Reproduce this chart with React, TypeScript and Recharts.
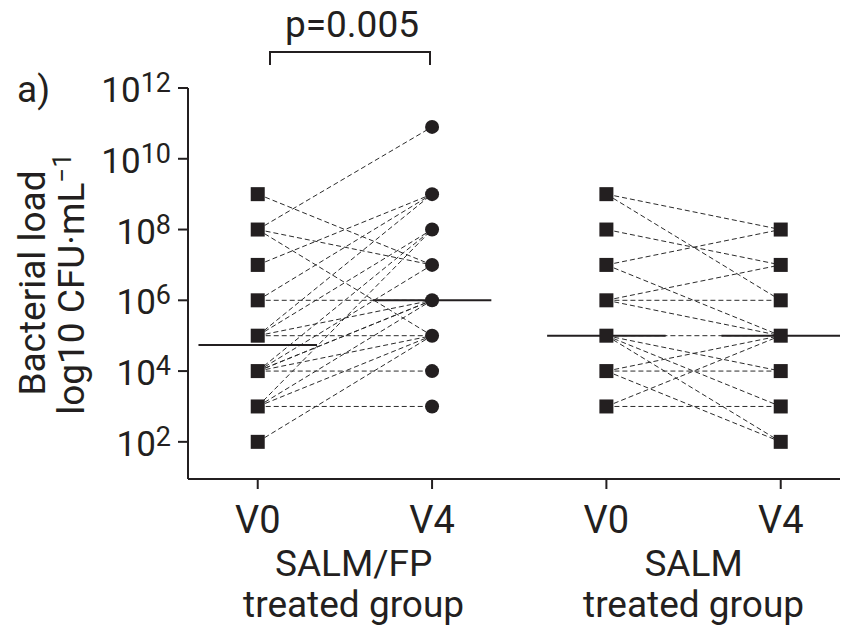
import React from 'react';
import { ComposedChart, Line, Scatter, XAxis, YAxis } from 'recharts';

// ---- data (log10 CFU/mL exponents) ----
const visitLabels = ['V0', 'V4', 'V0', 'V4'];
const visitPositions = [0, 1, 2, 3];
const groupNames = ['SALM/FP', 'SALM'];
const groupSubtitle = 'treated group';
const groupCenters = [0.55, 2.5];
const yTickExponents = [2, 4, 6, 8, 10, 12];

// SALM/FP group, paired by patient index
const salmFpV0 = [9, 8, 8, 8, 7, 6, 6, 5, 5, 5, 5, 4, 4, 4, 4, 4, 4, 3, 3, 3, 3, 2];
const salmFpV4 = [7, 10.9, 7, 5, 9, 9, 6, 9, 8, 6, 5, 8, 7, 6, 6, 5, 4, 8, 6, 5, 3, 5];

// SALM group, paired by patient index
const salmV0 = [9, 9, 8, 7, 7, 6, 6, 6, 5, 5, 5, 5, 4, 4, 4, 3, 3];
const salmV4 = [8, 6, 7, 8, 5, 7, 6, 5, 5, 4, 3, 2, 5, 4, 2, 5, 3];

// medians (V0, V4) per group
const salmFpMedians = [4.74, 6];
const salmMedians = [5, 5];

const pValueText = 'p=0.005';

// ---- styling ----
const INK = '#231f20';
const FONT = 'Roboto, "DejaVu Sans", sans-serif';
const MEDIAN_HALF = 0.34;

const uniq = (arr: number[]) => Array.from(new Set(arr));

const pairSegments = [
  ...salmFpV0.map((a, i) => [
    { x: visitPositions[0], y: a },
    { x: visitPositions[1], y: salmFpV4[i] },
  ]),
  ...salmV0.map((a, i) => [
    { x: visitPositions[2], y: a },
    { x: visitPositions[3], y: salmV4[i] },
  ]),
];

const squarePoints = [
  ...uniq(salmFpV0).map((y) => ({ x: visitPositions[0], y })),
  ...uniq(salmV0).map((y) => ({ x: visitPositions[2], y })),
  ...uniq(salmV4).map((y) => ({ x: visitPositions[3], y })),
];
const circlePoints = uniq(salmFpV4).map((y) => ({ x: visitPositions[1], y }));

const allMedians = [...salmFpMedians, ...salmMedians];
const medianSegments = allMedians.map((m, i) => [
  { x: visitPositions[i] - MEDIAN_HALF, y: m },
  { x: visitPositions[i] + MEDIAN_HALF, y: m },
]);

const SquareShape = (props: any) => {
  const { cx, cy } = props;
  return <rect x={cx - 7} y={cy - 7} width={14} height={14} fill={INK} />;
};
const CircleShape = (props: any) => {
  const { cx, cy } = props;
  return <circle cx={cx} cy={cy} r={7} fill={INK} />;
};

const YTick = (props: any) => {
  const { x, y, payload } = props;
  return (
    <text x={x - 5} y={y + 14} textAnchor="end" fill={INK} fontFamily={FONT} fontSize={35}>
      10
      <tspan fontSize={27} dy={-10}>
        {payload.value}
      </tspan>
    </text>
  );
};

const VisitTick = (props: any) => {
  const { x, payload } = props;
  const idx = visitPositions.indexOf(payload.value);
  return (
    <text x={x} y={533} textAnchor="middle" fill={INK} fontFamily={FONT} fontSize={38}>
      {visitLabels[idx]}
    </text>
  );
};

const GroupTick = (props: any) => {
  const { x, payload } = props;
  const name = groupNames[groupCenters.indexOf(payload.value)];
  return (
    <g>
      <text x={x} y={576} textAnchor="middle" fill={INK} fontFamily={FONT} fontSize={37}>
        {name}
      </text>
      <text x={x} y={617} textAnchor="middle" fill={INK} fontFamily={FONT} fontSize={37}>
        {groupSubtitle}
      </text>
    </g>
  );
};

export default function App() {
  return (
    <div style={{ position: 'absolute', left: 0, top: 0, width: 841, height: 628, background: '#fff' }}>
      <ComposedChart width={841} height={628} margin={{ top: 88, right: 1, bottom: 9, left: 88 }}>
        <XAxis
          xAxisId={0}
          type="number"
          dataKey="x"
          domain={[-0.4, 3.34]}
          ticks={visitPositions}
          tick={<VisitTick />}
          tickSize={10}
          height={60}
          stroke={INK}
          strokeWidth={2}
          allowDataOverflow
        />
        <XAxis
          xAxisId={1}
          type="number"
          dataKey="x"
          domain={[-0.4, 3.34]}
          ticks={groupCenters}
          tick={<GroupTick />}
          axisLine={false}
          tickLine={false}
          height={80}
          allowDataOverflow
        />
        <YAxis
          type="number"
          dataKey="y"
          domain={[0.95, 12]}
          ticks={yTickExponents}
          tick={<YTick />}
          tickSize={10}
          width={100}
          stroke={INK}
          strokeWidth={2}
          allowDataOverflow
        />
        {pairSegments.map((seg, i) => (
          <Line
            key={'p' + i}
            xAxisId={0}
            data={seg}
            dataKey="y"
            type="linear"
            stroke="#2b2b2b"
            strokeWidth={1}
            strokeDasharray="5 3"
            dot={false}
            activeDot={false}
            isAnimationActive={false}
          />
        ))}
        {medianSegments.map((seg, i) => (
          <Line
            key={'m' + i}
            xAxisId={0}
            data={seg}
            dataKey="y"
            type="linear"
            stroke={INK}
            strokeWidth={2}
            dot={false}
            activeDot={false}
            isAnimationActive={false}
          />
        ))}
        <Scatter xAxisId={0} data={squarePoints} dataKey="y" shape={<SquareShape />} isAnimationActive={false} />
        <Scatter xAxisId={0} data={circlePoints} dataKey="y" shape={<CircleShape />} isAnimationActive={false} />
      </ComposedChart>
      <svg
        width={841}
        height={628}
        style={{ position: 'absolute', left: 0, top: 0, pointerEvents: 'none' }}
      >
        <text x={17} y={102} fill={INK} fontFamily={FONT} fontSize={37}>
          a)
        </text>
        <text x={352} y={37} textAnchor="middle" fill={INK} fontFamily={FONT} fontSize={37}>
          {pValueText}
        </text>
        <path d="M270,65 L270,52 L430,52 L430,65" fill="none" stroke={INK} strokeWidth={2} />
        <text
          transform="translate(45,283) rotate(-90)"
          textAnchor="middle"
          fill={INK}
          fontFamily={FONT}
          fontSize={37}
        >
          Bacterial load
        </text>
        <text
          transform="translate(84,284) rotate(-90)"
          textAnchor="middle"
          fill={INK}
          fontFamily={FONT}
          fontSize={37}
        >
          log10 CFU·mL
          <tspan fontSize={26} dy={-13}>
            −1
          </tspan>
        </text>
      </svg>
    </div>
  );
}
